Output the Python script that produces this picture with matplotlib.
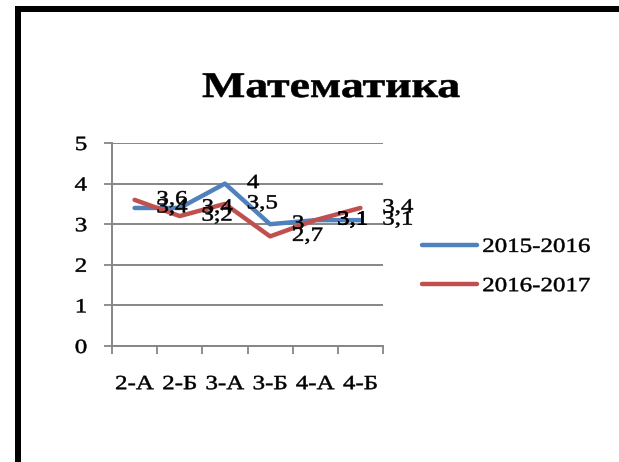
import matplotlib
matplotlib.use("Agg")
import matplotlib.pyplot as plt
from matplotlib.patheffects import AbstractPathEffect
from matplotlib.transforms import Affine2D
from matplotlib.patches import Rectangle

categories = ["2-А", "2-Б", "3-А", "3-Б", "4-А", "4-Б"]
series_2015 = [3.4, 3.4, 4.0, 3.0, 3.1, 3.1]
series_2016 = [3.6, 3.2, 3.5, 2.7, 3.1, 3.4]
series_names = ["2015-2016", "2016-2017"]
title = "Математика"
yticks = [0, 1, 2, 3, 4, 5]

BLUE = "#4F81BD"
RED = "#C0504D"
GRAY = "#868686"
SX = 1.24


class HStretch(AbstractPathEffect):
    def __init__(self, sx=SX, anchor="center", stroke=0.35):
        super().__init__()
        self.sx = sx
        self.anchor = anchor
        self.stroke = stroke

    def draw_path(self, renderer, gc, tpath, affine, rgbFace=None):
        ext = tpath.get_extents()
        if self.anchor == "left":
            x0 = ext.x0
        elif self.anchor == "right":
            x0 = ext.x1
        else:
            x0 = (ext.x0 + ext.x1) / 2
        t = Affine2D().translate(-x0, 0).scale(self.sx, 1).translate(x0, 0) + affine
        gc0 = renderer.new_gc()
        gc0.copy_properties(gc)
        if rgbFace is not None and self.stroke > 0:
            gc0.set_linewidth(self.stroke)
            gc0.set_foreground(rgbFace)
        renderer.draw_path(gc0, tpath, t, rgbFace)
        gc0.restore()


plt.rcParams["font.family"] = ["Liberation Serif", "DejaVu Serif"]

fig = plt.figure(figsize=(6.19, 4.62), dpi=100)
W, H = 619, 462
ax = fig.add_axes([112 / W, 1 - 346 / H, (383 - 112) / W, (346 - 143) / H])

x = list(range(len(categories)))
ax.plot(x, series_2015, color=BLUE, lw=3.2, solid_capstyle="round",
        solid_joinstyle="round", label=series_names[0], zorder=3)
ax.plot(x, series_2016, color=RED, lw=3.2, solid_capstyle="round",
        solid_joinstyle="round", label=series_names[1], zorder=3)

def fmt(v):
    return ("%g" % v).replace(".", ",")

FS = 14.5
for vals in (series_2015, series_2016):
    for i, v in enumerate(vals):
        t = ax.annotate(fmt(v), (i, v), xytext=(22, 0), textcoords="offset pixels",
                        ha="left", va="center", fontsize=FS, color="black", zorder=4,
                        annotation_clip=False)
        t.set_path_effects([HStretch(anchor="left")])

ax.set_xlim(-0.5, len(categories) - 0.5)
ax.set_ylim(0, 5)
ax.set_yticks(yticks)
ax.set_yticklabels([str(v) for v in yticks], fontsize=FS)
ax.set_xticks(x)
ax.set_xticklabels(categories, fontsize=FS)
ax.set_xticks([i - 0.5 for i in range(len(categories) + 1)], minor=True)
ax.tick_params(axis="x", which="major", length=0, pad=21)
ax.tick_params(axis="x", which="minor", length=6, width=1.3, color=GRAY, direction="out")
ax.tick_params(axis="y", length=6, width=1.3, color=GRAY, pad=12)
for s in ("top", "right"):
    ax.spines[s].set_visible(False)
for s in ("left", "bottom"):
    ax.spines[s].set_color(GRAY)
    ax.spines[s].set_linewidth(1.4)
ax.grid(axis="y", color=GRAY, lw=1.4)
ax.set_axisbelow(True)

for lab in ax.get_xticklabels():
    lab.set_path_effects([HStretch(anchor="center")])
for lab in ax.get_yticklabels():
    lab.set_path_effects([HStretch(anchor="right")])

leg = ax.legend(loc="center left", bbox_to_anchor=(422 / W, 1 - 267 / H),
                bbox_transform=fig.transFigure, frameon=False, fontsize=FS,
                handlelength=2.75, handletextpad=0.25, labelspacing=1.0,
                borderpad=0, borderaxespad=0)
for line in leg.get_lines():
    line.set_solid_capstyle("round")
    line.set_linewidth(3.2)
for t in leg.get_texts():
    t.set_path_effects([HStretch(anchor="left")])

tt = fig.text(331.5 / W, 1 - 97 / H, title, ha="center", va="baseline",
              fontsize=26, fontweight="bold")
tt.set_path_effects([HStretch(sx=1.27, anchor="center", stroke=0.4)])

# outer frame (top and left black borders)
fig.add_artist(Rectangle((15 / W, 0), 6 / W, (H - 6) / H,
                         transform=fig.transFigure, color="black", lw=0))
fig.add_artist(Rectangle((15 / W, 1 - 12 / H), (W - 15) / W, 6 / H,
                         transform=fig.transFigure, color="black", lw=0))

fig.savefig("out.png", dpi=100)
